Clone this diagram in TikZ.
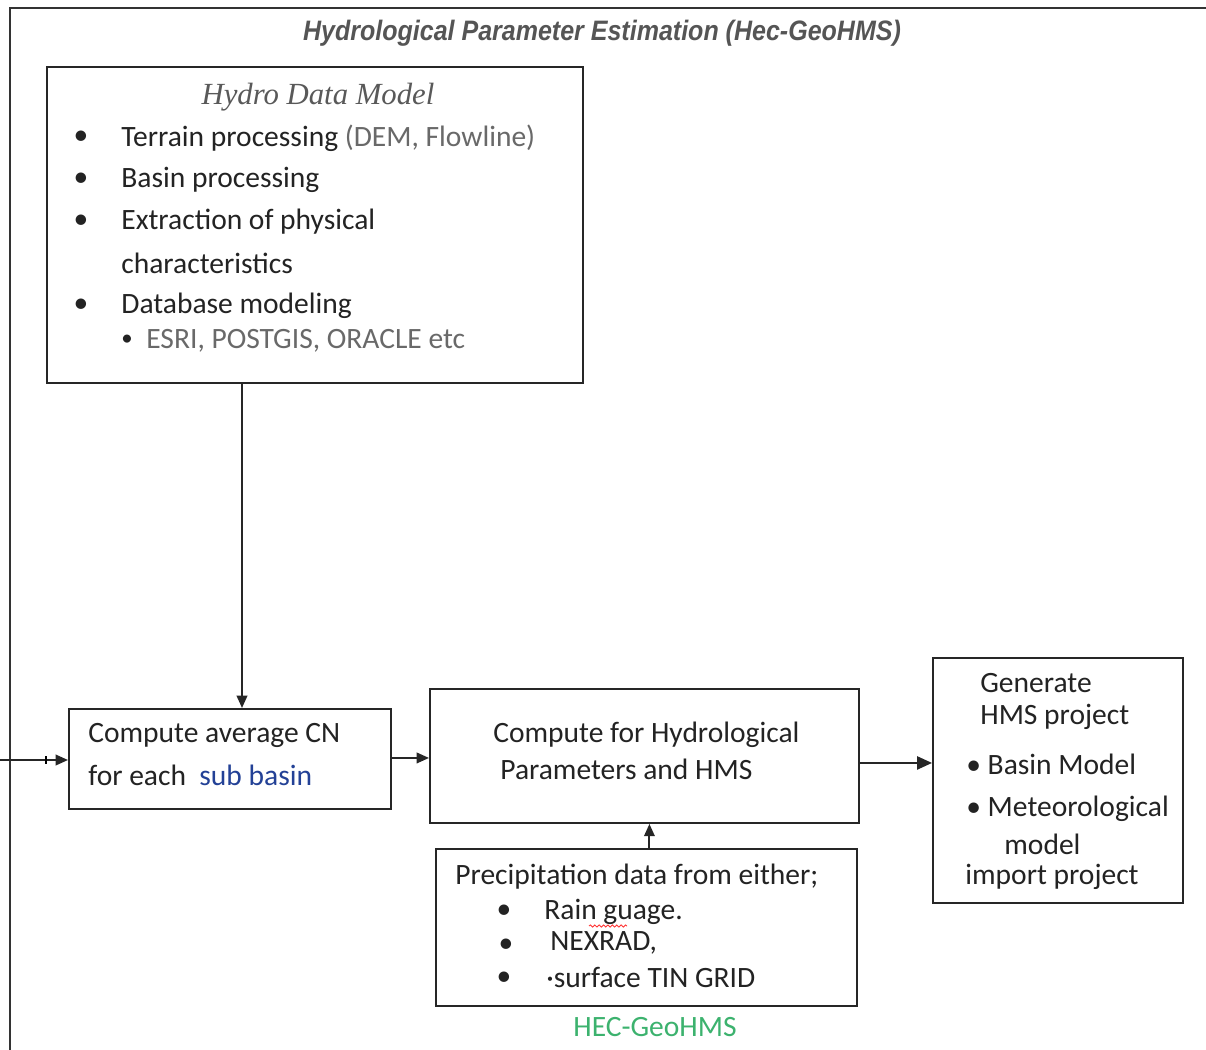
\documentclass[tikz,border=0pt]{standalone}
\usepackage{fontspec}
\setmainfont{Carlito}
\newfontfamily\titlefont[FakeStretch=0.89]{Liberation Sans}
\newfontfamily\hdmfont{Liberation Serif}
\usetikzlibrary{
  arrows.meta,
  positioning,
  calc,
  decorations.pathmorphing
}
\definecolor{textgray}{RGB}{35,35,35}
\definecolor{notegray}{RGB}{105,105,105}
\definecolor{titlegray}{RGB}{85,85,85}
\definecolor{basinblue}{RGB}{35,65,150}
\definecolor{hecgreen}{RGB}{60,178,110}

\begin{document}
\begin{tikzpicture}[x=0.02cm, y=-0.02cm, >={Triangle[length=7pt,width=6pt]},
    font=\fontsize{16.8}{20}\selectfont, text=textgray]

  \tikzset{
    procbox/.style={draw=black!85, line width=1.1pt, anchor=north west,
                    inner sep=0pt, fill=white},
    txtline/.style={anchor=west, inner sep=0pt},
    bul/.style={inner sep=0pt},
    flow/.style={->, line width=1.1pt, black!85}
  }

  \useasboundingbox (0,0) rectangle (1206,1050);

  % outer frame (only top and left edges visible)
  \draw[line width=1.3pt, black!80] (1206,8) -- (10,8) -- (10,1050);

  \node[font=\titlefont\bfseries\itshape\fontsize{16}{18}\selectfont, text=titlegray]
    (title) at (602,33) {Hydrological Parameter Estimation (Hec-GeoHMS)};

  % boxes
  \node[procbox, minimum width=10.72cm, minimum height=6.32cm] (hydro)  at (46,66)   {};
  \node[procbox, minimum width=6.44cm,  minimum height=2.0cm]  (avgcn)  at (68,708)  {};
  \node[procbox, minimum width=8.58cm,  minimum height=2.68cm] (hmspar) at (429,688) {};
  \node[procbox, minimum width=8.42cm,  minimum height=3.14cm] (precip) at (435,848) {};
  \node[procbox, minimum width=5.0cm,   minimum height=4.9cm]  (genhms) at (932,657) {};

  % Hydro Data Model
  \node[font=\hdmfont\itshape\fontsize{17.5}{20}\selectfont, text=black!65]
    (hdmtitle) at (318,97) {Hydro Data Model};
  \foreach \y [count=\i] in {138,180,222,306}
    \node[bul] (hdmbul\i) at (81,\y) {\textbullet};
  \node[txtline] (terrain) at (121,138) {Terrain processing \textcolor{notegray}{(DEM, Flowline)}};
  \node[txtline] (basin)   at (121,180) {Basin processing};
  \node[txtline] (extract) at (121,222) {Extraction of physical};
  \node[txtline] (charac)  at (121,263) {characteristics};
  \node[txtline] (dbmodel) at (121,306) {Database modeling};
  \node[bul, font=\fontsize{13}{15}\selectfont] (dbbul) at (127,340) {\textbullet};
  \node[txtline, text=notegray] (dbnames) at (146,341) {ESRI, POSTGIS, ORACLE etc};

  % average CN
  \node[txtline] (cnline1) at (88,735) {Compute average CN};
  \node[txtline] (cnline2) at (88,775) {for each\ \ \textcolor{basinblue}{sub basin}};

  % hydrological parameters
  \node[txtline] (hpline1) at (493,735) {Compute for Hydrological};
  \node[txtline] (hpline2) at (500,769) {Parameters and HMS};

  % precipitation
  \node[txtline] (prhead) at (455,877) {Precipitation data from either;};
  \node[bul] (prbul1) at (504,912) {\textbullet};
  \node[bul] (prbul2) at (506,946) {\textbullet};
  \node[bul] (prbul3) at (504,979) {\textbullet};
  \node[txtline] (rain)   at (544,912) {Rain guage.};
  \node[txtline] (nexrad) at (550,943) {NEXRAD,};
  \node[txtline] (tin)    at (546,977) {\textperiodcentered surface TIN GRID};
  \draw[red!80, line width=0.5pt, decorate,
        decoration={snake, amplitude=0.6pt, segment length=2.5pt}]
    (589,926) -- (627,926);

  % HMS project
  \node[txtline] (genline1) at (980,683)  {Generate};
  \node[txtline] (genline2) at (980,717)  {HMS project};
  \node[txtline] (genline3) at (966,764)  {\textbullet\ Basin Model};
  \node[txtline] (genline4) at (966,809)  {\textbullet\ Meteorological};
  \node[txtline] (genline5) at (1004,844) {model};
  \node[txtline] (genline6) at (965,877)  {import project};

  \node[text=hecgreen] (hecnote) at (655,1027) {HEC-GeoHMS};

  % connectors
  \draw[flow] (hydro.south west) ++(196,0) coordinate (hdmout) -- (hdmout |- avgcn.north);
  \coordinate (inflow) at (0,760);
  \draw[flow] (inflow) -- (inflow -| avgcn.west);
  \draw[line width=0.6pt] (inflow) ++(46,-4) -- ++(0,8);
  \draw[flow] (avgcn.east) ++(0,-1) coordinate (cnout) -- (cnout -| hmspar.west);
  \draw[flow] (precip.north) ++(3,0) coordinate (prout) -- (prout |- hmspar.south);
  \draw[flow, -{Triangle[length=8.5pt,width=7.5pt]}]
    (hmspar.east) ++(0,7) coordinate (hpout) -- (hpout -| genhms.west);

\end{tikzpicture}
\end{document}
